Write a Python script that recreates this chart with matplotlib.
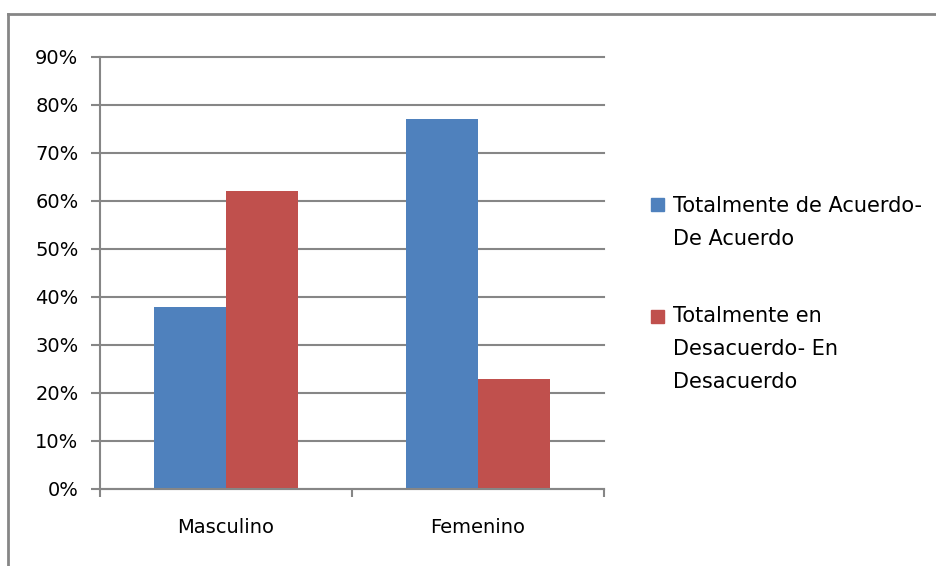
import matplotlib
matplotlib.use("Agg")
import matplotlib.pyplot as plt
import numpy as np
from matplotlib.lines import Line2D
from matplotlib.patches import Rectangle
from matplotlib.ticker import PercentFormatter

# -----------------------------
# Data
# -----------------------------
categories = ["Masculino", "Femenino"]
series_names = ["Totalmente de Acuerdo-\nDe Acuerdo",
                "Totalmente en\nDesacuerdo- En\nDesacuerdo"]
acuerdo = [0.38, 0.77]
desacuerdo = [0.62, 0.23]
colors = ["#4F81BD", "#C0504D"]
y_ticks = [0, 0.1, 0.2, 0.3, 0.4, 0.5, 0.6, 0.7, 0.8, 0.9]

GRAY = "#868686"
W, H = 936, 566

plt.rcParams["font.family"] = "DejaVu Sans"

fig = plt.figure(figsize=(W / 100, H / 100), dpi=100)
ax = fig.add_axes([100 / W, 1 - 489 / H, 504 / W, 432 / H])

x = np.arange(len(categories))
bw = 72 / 252
ax.bar(x - bw / 2, acuerdo, bw, color=colors[0], zorder=2)
ax.bar(x + bw / 2, desacuerdo, bw, color=colors[1], zorder=2)

ax.set_xlim(-0.5, len(categories) - 0.5)
ax.set_ylim(0, 0.9)
ax.set_yticks(y_ticks)
ax.yaxis.set_major_formatter(PercentFormatter(1.0, decimals=0))
ax.yaxis.grid(True, color=GRAY, linewidth=1.5, zorder=0)
ax.set_axisbelow(True)
for gl in ax.get_ygridlines():
    gl.set_clip_on(False)

ax.set_xticks(x)
ax.set_xticklabels(categories)
ax.set_xticks(np.arange(-0.5, len(categories)), minor=True)
ax.tick_params(axis="x", which="major", length=0, pad=21, labelsize=14)
ax.tick_params(axis="x", which="minor", length=6, width=1.5, color=GRAY, direction="out")
ax.tick_params(axis="y", length=6.5, width=1.5, color=GRAY, pad=9, labelsize=14)

for side in ["top", "right"]:
    ax.spines[side].set_visible(False)
for side in ["left", "bottom"]:
    ax.spines[side].set_color(GRAY)
    ax.spines[side].set_linewidth(1.5)

# legend drawn by hand so the marker sits on the first line
marker_top = [198, 310]
text_last_base = [245, 388]
for name, col, mt, lb in zip(series_names, colors, marker_top, text_last_base):
    fig.patches.append(Rectangle((651 / W, 1 - (mt + 13) / H), 13 / W, 13 / H,
                                 transform=fig.transFigure, color=col))
    fig.text(673 / W, 1 - lb / H, name, fontsize=15, va="baseline",
             ha="left", linespacing=1.8)

# outer frame (only top and left visible in the crop)
fig.lines.append(Line2D([8 / W, 1], [1 - 14 / H, 1 - 14 / H],
                        transform=fig.transFigure, color=GRAY, linewidth=2))
fig.lines.append(Line2D([8 / W, 8 / W], [1 - 14 / H, 0],
                        transform=fig.transFigure, color=GRAY, linewidth=2))

fig.savefig("out.png", dpi=100)
